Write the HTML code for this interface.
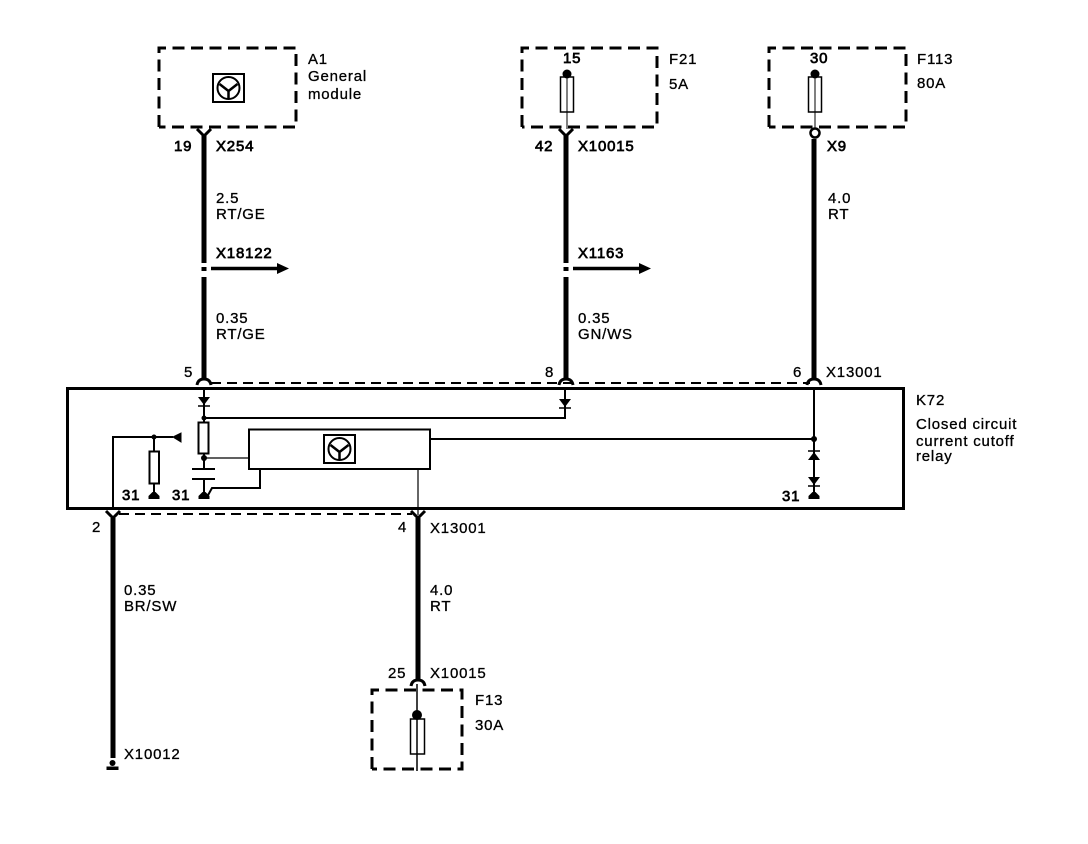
<!DOCTYPE html>
<html><head><meta charset="utf-8"><style>
html,body{margin:0;padding:0;background:#fff}
svg{display:block}
text{font-family:"Liberation Sans",sans-serif;font-size:15px;letter-spacing:.8px;fill:#000;stroke:#000;stroke-width:.3}
.b{stroke-width:.7}
</style></head><body>
<svg width="1088" height="844" viewBox="0 0 1088 844" xmlns="http://www.w3.org/2000/svg">
<defs>
<g id="ic">
<rect x="-15.5" y="-14" width="31" height="28" fill="#fff" stroke="#000" stroke-width="2"/>
<circle cx="0" cy="0" r="11" fill="none" stroke="#000" stroke-width="2"/>
<path d="M-9 -4L0 3L9 -4M0 3V11" fill="none" stroke="#000" stroke-width="2.5"/>
</g>
<path id="y" d="M-7 -4L0 3L7 -4" fill="none" stroke="#000" stroke-width="3"/>
<path id="a" d="M-7 3Q-6 -3 0 -3Q6 -3 7 3" fill="none" stroke="#000" stroke-width="3"/>
<path id="g" d="M-5.500 4H5.500V1L1.500 -3H-1.500L-5.500 1Z" fill="#000"/>
<g id="dd"><path d="M-6 -4H6L0 4Z" fill="#000"/><path d="M-6 5H6" stroke="#000" stroke-width="1.500"/></g>
</defs>

<g fill="none" stroke="#000" stroke-width="3" stroke-dasharray="12 6.500">
<path d="M159 127V48H296V127H159"/>
<path d="M522 127V48H657V127H522"/>
<path d="M769 127V48H906V127H769"/>
<path d="M372 769V690H462V769H372"/>
</g>

<g fill="none" stroke="#000" stroke-width="2" stroke-dasharray="10 6">
<path d="M211 383H810"/>
<path d="M119 514H412"/>
</g>

<rect x="67.500" y="388.500" width="836" height="120" fill="none" stroke="#000" stroke-width="3"/>

<g stroke="#000" stroke-width="5" fill="none">
<path d="M204 134V263M204 277V380"/>
<path d="M566 134V263M566 277V380"/>
<path d="M814 139V380"/>
<path d="M113 518V758"/>
<path d="M418 518V680"/>
<path d="M204 267V271M566 267V271"/>
</g>
<use href="#y" x="204" y="133"/><use href="#y" x="566" y="133"/>
<circle cx="815" cy="133" r="4.500" fill="#fff" stroke="#000" stroke-width="2.500"/>
<use href="#a" x="204" y="382"/><use href="#a" x="566" y="382"/><use href="#a" x="814" y="382"/>
<use href="#y" x="113" y="515"/><use href="#y" x="418" y="515"/>
<use href="#a" x="418" y="683"/>
<circle cx="112.500" cy="763" r="3" fill="#000"/><path d="M106.500 770V766.500H118.500V770Z" fill="#000"/>

<path d="M211 268.500H277" stroke="#000" stroke-width="3.500"/><path d="M277 263L289 268.500L277 274Z" fill="#000"/>
<path d="M573 268.500H639" stroke="#000" stroke-width="3.500"/><path d="M639 263L651 268.500L639 274Z" fill="#000"/>

<g fill="#fff" stroke="#000" stroke-width="1.500">
<rect x="560.500" y="77" width="13" height="35"/>
<rect x="808.500" y="77" width="13" height="35"/>
<rect x="410.500" y="719" width="14" height="35"/>
</g>
<g stroke="#000" stroke-width="1" fill="none">
<path d="M567 77V129M815 77V128"/>
<path d="M417 684V771" stroke-width="1.500"/>
</g>
<circle cx="567" cy="74" r="4.500" fill="#000"/><circle cx="815" cy="74" r="4.500" fill="#000"/><circle cx="417" cy="715" r="5" fill="#000"/>

<use href="#ic" x="228.500" y="88"/>

<g stroke="#000" stroke-width="2" fill="none">
<path d="M204 388V422"/>
<path d="M204 418H565V388" stroke-width="2"/>
<path d="M204 454V469M204 478V497"/>
<path d="M192 469H215M192 479H215" />
<path d="M207 497L212 488H260V469"/>
<path d="M113 508V437H173"/>
<path d="M154 437V451M154 483V497"/>
<path d="M430 439H814"/>
<path d="M814 389V497"/>
</g>
<path d="M204 458H249M418 469V515" stroke="#000" stroke-width="1.200"/>
<rect x="198.500" y="422.500" width="10" height="31" fill="#fff" stroke="#000" stroke-width="2"/>
<rect x="149.500" y="451.500" width="9.500" height="32" fill="#fff" stroke="#000" stroke-width="2"/>
<rect x="249" y="429.500" width="181" height="39.500" fill="#fff" stroke="#000" stroke-width="2"/>
<use href="#ic" x="339.500" y="449"/>
<circle cx="204" cy="418" r="2.500"/><circle cx="204" cy="458" r="3"/><circle cx="154" cy="437" r="2.500"/><circle cx="814" cy="439" r="3"/>
<path d="M173 437L181 433V442Z" fill="#000" stroke="#000" stroke-width="1"/>
<use href="#dd" x="204" y="401"/><use href="#dd" x="565" y="403"/>
<use href="#dd" x="814" y="456" transform="rotate(180 814 456)"/><use href="#dd" x="814" y="481"/>
<use href="#g" x="154" y="495"/><use href="#g" x="204" y="495"/><use href="#g" x="814" y="495"/>

<text x="308" y="64">A1</text><text x="308" y="81">General</text><text x="308" y="99">module</text>
<text x="669" y="64">F21</text><text x="669" y="89">5A</text>
<text x="917" y="64">F113</text><text x="917" y="88">80A</text>
<text x="563" y="63" class="b">15</text><text x="810" y="63" class="b">30</text>

<text x="174" y="151" class="b">19</text><text x="216" y="151" class="b">X254</text>
<text x="535" y="151" class="b">42</text><text x="578" y="151" class="b">X10015</text>
<text x="827" y="151" class="b">X9</text>

<text x="216" y="203">2.5</text><text x="216" y="219">RT/GE</text>
<text x="216" y="258" class="b">X18122</text>
<text x="216" y="323">0.35</text><text x="216" y="339">RT/GE</text>

<text x="578" y="258" class="b">X1163</text>
<text x="578" y="323">0.35</text><text x="578" y="339">GN/WS</text>

<text x="828" y="203">4.0</text><text x="828" y="219">RT</text>

<text x="184" y="377">5</text><text x="545" y="377">8</text><text x="793" y="377">6</text>
<text x="826" y="377">X13001</text>

<text x="916" y="405">K72</text>
<text x="916" y="429">Closed circuit</text><text x="916" y="446">current cutoff</text><text x="916" y="461">relay</text>

<text x="122" y="500" class="b">31</text><text x="172" y="500" class="b">31</text><text x="782" y="501" class="b">31</text>

<text x="92" y="532">2</text><text x="398" y="532">4</text>
<text x="430" y="533">X13001</text>

<text x="124" y="595">0.35</text><text x="124" y="611">BR/SW</text>
<text x="430" y="595">4.0</text><text x="430" y="611">RT</text>

<text x="388" y="678">25</text><text x="430" y="678">X10015</text>
<text x="475" y="705">F13</text><text x="475" y="730">30A</text>
<text x="124" y="759">X10012</text>
</svg>
</body></html>
